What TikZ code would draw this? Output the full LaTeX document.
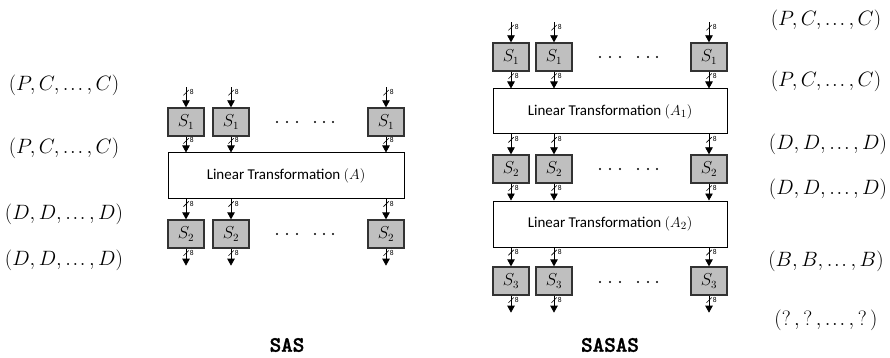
\documentclass[tikz,border=0pt]{standalone}
\usepackage{fontspec}
\setsansfont{Carlito}
\newfontfamily\titlefont{lmmonolt10-bold.otf}[FakeBold=1.5]
\usetikzlibrary{arrows.meta}
\newcommand\tdots{\mathinner{.\mkern1.5mu.\mkern1.5mu.}}
\begin{document}
\begin{tikzpicture}[x=1pt,y=-1pt,
  sbox/.style={draw=black!80, line width=1.3pt, fill=black!25, minimum width=36pt, minimum height=28pt, inner sep=0pt, font=\fontsize{16}{16}\selectfont},
  ltbox/.style={draw, line width=1pt, fill=white, inner sep=0pt, font=\sffamily\fontsize{15}{15}\selectfont},
  bus/.style={line width=0.8pt, -{Triangle[width=7.5pt,length=7pt]}},
  buslab/.style={pos=0.27, inner sep=0pt, minimum size=5.5pt,
    path picture={\draw[-, line width=0.6pt] (path picture bounding box.south west) -- (path picture bounding box.north east);},
    label={[font=\sffamily\fontsize{7.5}{7.5}\selectfont, inner sep=0.3pt, yshift=0.5pt]right:8}},
  tuple/.style={font=\fontsize{21}{21}\selectfont, inner sep=0pt},
  titlestyle/.style={font=\titlefont\fontsize{22}{22}\selectfont, inner sep=0pt},
  dot/.style={fill=black}
]
\useasboundingbox (0,0) rectangle (890,358);

% ---------------- SAS ----------------
\node[sbox] (a1) at (186,122) {$S_1$};
\node[sbox] (a2) at (231,122) {$S_1$};
\node[sbox] (a3) at (386,122) {$S_1$};
\node[ltbox, minimum width=236pt, minimum height=45pt] (la) at (286,175.5) {Linear Transformation $(A)$};
\node[sbox] (b1) at (186,234) {$S_2$};
\node[sbox] (b2) at (231,234) {$S_2$};
\node[sbox] (b3) at (386,234) {$S_2$};

\foreach \n in {a1,a2,a3} {
  \coordinate (\n-in) at ([yshift=20pt]\n.north);
  \draw[bus] (\n-in) -- (\n.north) node[buslab]{};
  \draw[bus] (\n.south) -- (\n.south |- la.north) node[buslab]{};
}
\foreach \n in {b1,b2,b3} {
  \draw[bus] (\n.north |- la.south) -- (\n.north) node[buslab]{};
  \coordinate (\n-out) at ([yshift=-17pt]\n.south);
  \draw[bus] (\n.south) -- (\n-out) node[buslab]{};
}
\foreach \y in {122,234} {
  \foreach \x in {277,287,297,315,324,333} \fill[dot] (\x,\y) circle (1.1pt);
}

\node[tuple] (l1) at (64,85) {$(P,C,\tdots,C)$};
\node[tuple] (l2) at (64,148) {$(P,C,\tdots,C)$};
\node[tuple] (l3) at (64,214) {$(D,D,\tdots,D)$};
\node[tuple] (l4) at (64,260) {$(D,D,\tdots,D)$};

\node[titlestyle] (t1) at (287,345) {SAS};

% ---------------- SASAS ----------------
\node[sbox] (c1) at (511,57) {$S_1$};
\node[sbox] (c2) at (554,57) {$S_1$};
\node[sbox] (c3) at (709,57) {$S_1$};
\node[ltbox, minimum width=234pt, minimum height=45pt] (lb) at (610,111.5) {Linear Transformation $(A_1)$};
\node[sbox] (d1) at (511,169) {$S_2$};
\node[sbox] (d2) at (554,169) {$S_2$};
\node[sbox] (d3) at (709,169) {$S_2$};
\node[ltbox, minimum width=234pt, minimum height=46pt] (lc) at (610,224) {Linear Transformation $(A_2)$};
\node[sbox] (e1) at (511,281) {$S_3$};
\node[sbox] (e2) at (554,281) {$S_3$};
\node[sbox] (e3) at (709,281) {$S_3$};

\foreach \n in {c1,c2,c3} {
  \coordinate (\n-in) at ([yshift=20pt]\n.north);
  \draw[bus] (\n-in) -- (\n.north) node[buslab]{};
  \draw[bus] (\n.south) -- (\n.south |- lb.north) node[buslab]{};
}
\foreach \n in {d1,d2,d3} {
  \draw[bus] (\n.north |- lb.south) -- (\n.north) node[buslab]{};
  \draw[bus] (\n.south) -- (\n.south |- lc.north) node[buslab]{};
}
\foreach \n in {e1,e2,e3} {
  \draw[bus] (\n.north |- lc.south) -- (\n.north) node[buslab]{};
  \coordinate (\n-out) at ([yshift=-17pt]\n.south);
  \draw[bus] (\n.south) -- (\n-out) node[buslab]{};
}
\foreach \y in {57,169,282} {
  \foreach \x in {600,610,620,638,648,657} \fill[dot] (\x,\y) circle (1.1pt);
}

\node[tuple] (r1) at (826,20) {$(P,C,\tdots,C)$};
\node[tuple] (r2) at (826,81) {$(P,C,\tdots,C)$};
\node[tuple] (r3) at (828,144) {$(D,D,\tdots,D)$};
\node[tuple] (r4) at (828,189) {$(D,D,\tdots,D)$};
\node[tuple] (r5) at (826,261) {$(B,B,\tdots,B)$};
\node[tuple] (r6) at (826,320) {$(?\,,?\,,\tdots,?\,)$};

\node[titlestyle] (t2) at (610,345) {SASAS};
\end{tikzpicture}
\end{document}
